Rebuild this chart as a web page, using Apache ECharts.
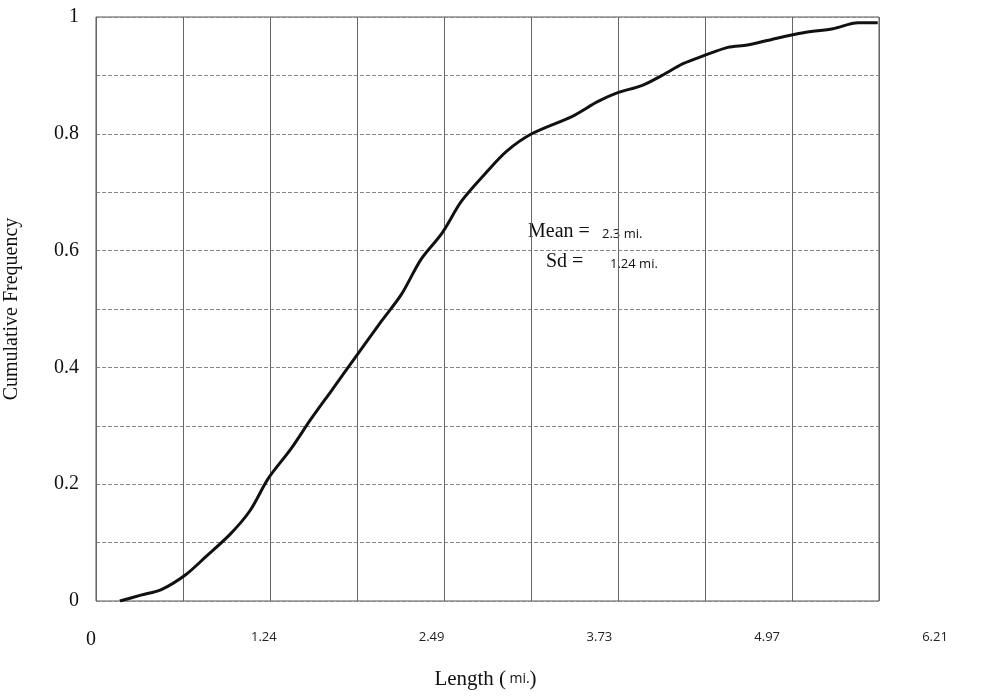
<!DOCTYPE html>
<html>
<head>
<meta charset="utf-8">
<script src="https://cdn.jsdelivr.net/npm/echarts@6/dist/echarts.min.js"></script>
<style>body{margin:0;background:#fff}#main{width:982px;height:696px}</style>
</head>
<body>
<div id="main"></div>
<script>
// 曲线数据
const lengths = [0.17,0.32,0.47,0.64,0.78,0.96,1.10,1.23,1.39,1.53,1.68,1.86,2.04,2.18,2.32,2.47,2.61,2.79,2.93,3.11,3.40,3.58,3.72,3.90,4.04,4.19,4.33,4.51,4.65,4.83,5.05,5.26,5.44,5.58];
const freqs = [0,0.01,0.02,0.045,0.075,0.115,0.155,0.21,0.26,0.31,0.36,0.42,0.48,0.525,0.585,0.63,0.685,0.735,0.77,0.80,0.83,0.855,0.87,0.883,0.90,0.92,0.933,0.948,0.952,0.962,0.973,0.98,0.99,0.99];
const xTickLabels = ['1.24','2.49','3.73','4.97','6.21'];
const yTickLabels = ['0','0.2','0.4','0.6','0.8','1'];

let myChart = echarts.init(document.getElementById('main'));
const serif = 'Liberation Serif';
const grid = {type:'dashed', color:'#888', width:1};
myChart.setOption({
  animation:false,
  grid:[
    {left:96, top:17, width:783, height:584, show:true, borderColor:'#555', borderWidth:1, outerBoundsMode:'none', containLabel:false},
    {left:96, top:17, width:839, height:584, outerBoundsMode:'none', containLabel:false}
  ],
  xAxis:[
    {gridIndex:0, type:'value', min:0, max:5.589, interval:0.621,
     axisLine:{show:false}, axisTick:{show:false}, axisLabel:{show:false},
     splitLine:{show:true, lineStyle:{color:'#666', width:1}}},
    {gridIndex:1, type:'value', min:0, max:6.21, interval:1.242,
     axisLine:{show:false}, axisTick:{show:false}, splitLine:{show:false},
     axisLabel:{show:true, margin:30, fontFamily:'Open Sans', fontSize:13, color:'#222',
       formatter:(v,i)=> i===0 ? '' : xTickLabels[i-1]},
     name:'{a|Length (} {b|mi.}{a|)}', nameLocation:'middle', nameGap:68,
     nameTextStyle:{padding:[0,60,0,0], rich:{
       a:{fontFamily:serif, fontSize:21, color:'#111'},
       b:{fontFamily:'Open Sans', fontSize:14, color:'#111'}}}}
  ],
  yAxis:[
    {gridIndex:0, type:'value', min:0, max:1, interval:0.1,
     axisLine:{show:false}, axisTick:{show:false},
     axisLabel:{fontFamily:serif, fontSize:20, color:'#111', margin:17,
       formatter:v=>{const k=Math.round(v*10); return k%2===0 ? yTickLabels[k/2] : '';}},
     splitLine:{show:true, lineStyle:grid},
     name:'Cumulative Frequency', nameLocation:'middle', nameGap:74,
     nameTextStyle:{fontFamily:serif, fontSize:20, color:'#111', padding:[0,0,0,0]}},
    {gridIndex:1, type:'value', min:0, max:1, show:false}
  ],
  graphic:[
    {type:'text', x:86, y:630, style:{text:'0', font:'20px "Liberation Serif"', fill:'#111'}},
    {type:'text', x:528, y:222, style:{text:'Mean =', font:'20px "Liberation Serif"', fill:'#111'}},
    {type:'text', x:602, y:228, style:{text:'2.3 mi.', font:'13px "Open Sans"', fill:'#111'}},
    {type:'text', x:546, y:252, style:{text:'Sd =', font:'20px "Liberation Serif"', fill:'#111'}},
    {type:'text', x:610, y:258, style:{text:'1.24 mi.', font:'13px "Open Sans"', fill:'#111'}}
  ],
  series:[{
    type:'line', xAxisIndex:0, yAxisIndex:0, showSymbol:false, smooth:0.3,
    lineStyle:{color:'#111', width:3},
    data: lengths.map((x,i)=>[x,freqs[i]])
  }]
});
</script>
</body>
</html>
